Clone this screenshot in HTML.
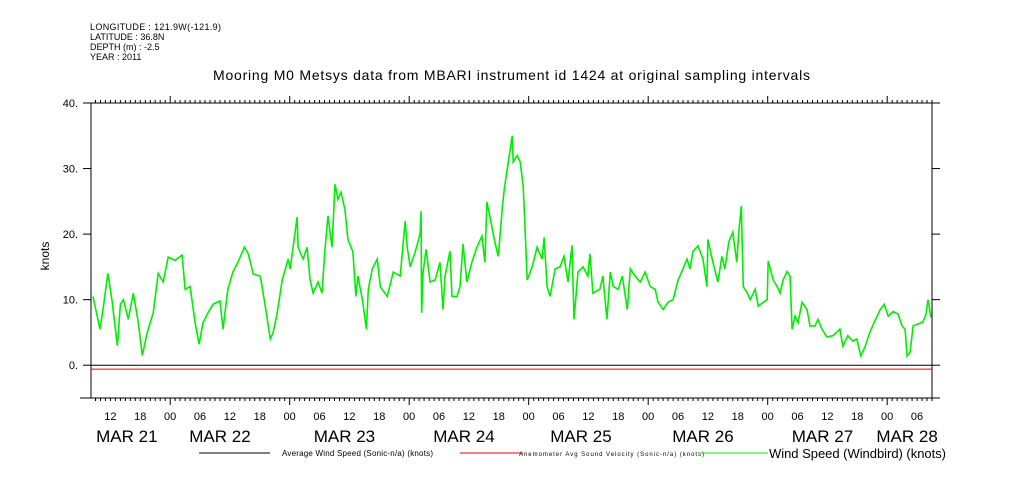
<!DOCTYPE html>
<html><head><meta charset="utf-8">
<style>
body{margin:0;background:#fff;}
svg{display:block;font-family:"Liberation Sans",sans-serif;}
</style></head>
<body>
<svg id="chart" width="1009" height="504" viewBox="0 0 1009 504" xmlns="http://www.w3.org/2000/svg">
<rect x="0" y="0" width="1009" height="504" fill="#fff"/>
<g font-size="9" fill="#000">
<text x="90" y="30" textLength="131">LONGITUDE : 121.9W(-121.9)</text>
<text x="90" y="40">LATITUDE : 36.8N</text>
<text x="90" y="50">DEPTH (m) : -2.5</text>
<text x="90" y="60">YEAR : 2011</text>
</g>
<text x="213" y="80" textLength="597" font-size="14">Mooring M0 Metsys data from MBARI instrument id 1424 at original sampling intervals</text>
<text transform="translate(49,256) rotate(-90)" text-anchor="middle" font-size="12">knots</text>
<g id="axes"></g>
<g id="series"></g>
<g font-size="8">
<line x1="199" y1="453" x2="270" y2="453" stroke="#000"/>
<text x="282" y="456" textLength="151">Average Wind Speed (Sonic-n/a) (knots)</text>
<line x1="460" y1="453" x2="523" y2="453" stroke="#e00"/>
<text x="519" y="456" font-size="6" textLength="185">Anemometer Avg Sound Velocity (Sonic-n/a) (knots)</text>
<line x1="700" y1="453" x2="768" y2="453" stroke="#0e0"/>
<text x="769" y="458" font-size="13" textLength="177">Wind Speed (Windbird) (knots)</text>
</g>
</svg>
<script>
const hours=[8.5,9.9,10.5,11.5,12.3,13.4,14,14.6,15.6,16.6,17.6,18.4,19.4,20.6,21.6,22.6,23.6,25,26.4,27,28,29,29.8,30.6,31.6,32.6,34,34.6,35.6,36.6,37.6,38.9,39.7,40.7,42.1,43.1,44.1,44.7,45.5,46.5,47.7,48.1,49.5,49.7,50.7,51.5,52.1,52.7,53.7,54.5,55.1,55.7,56.5,57.1,57.7,58.3,59.1,59.7,60.7,61.3,61.7,62.6,63.4,63.8,64.6,65.6,66.2,67.6,68.8,70.2,71.2,71.6,72.2,73.2,74.2,74.4,74.5,74.8,75.4,76.2,77.2,78.2,78.8,79.2,80.2,80.6,81.6,82.2,82.8,83.6,84.6,85.6,86.6,87.2,87.6,88.2,89.2,89.9,90.7,91.1,91.7,92.3,92.7,92.9,93.7,94.3,94.9,95.3,95.7,96.7,97.7,98.7,99.1,99.7,100.3,101.3,102.3,103.1,103.9,104.7,105.1,105.9,106.9,107.9,108.3,108.9,110.3,110.9,111.7,112.4,113,114,114.8,115.8,116.4,117.4,118.4,119.4,120.4,121.4,122,123,124,125,126,127,127.8,128.4,129,130,131,131.8,132,133,134,134.8,135.4,136.2,137,137.8,138.2,138.7,139.1,139.9,140.5,141.5,142.1,143.1,143.9,144.1,145.1,145.9,146.5,147.1,147.9,148.5,148.9,149.5,150.1,150.9,151.9,152.5,153.5,154.1,154.9,155.9,157.1,158.5,159.1,160.1,161.1,161.9,162.7,163.5,164.5,165.5,166.6,167.4,168.2,169.2,170.2,171,171.6,172,172.6,173.2,174.2,175.2,175.8,176.2,176.8];
const windSpeed=[10.5,5.5,8.5,14,10,3,9.3,10,7,11,6.5,1.5,5,8,14,12.7,16.5,16,16.8,11.6,12,6.5,3.2,6.5,8,9.3,9.8,5.5,11.6,14.2,15.7,18,17,13.9,13.6,9,4,5,8,13,16.2,14.7,22.6,18,16.2,18,13,11,12.7,11,17.7,22.8,18,27.6,25.3,26.4,23.8,19.2,17.3,10.5,13.6,10,5.5,11.6,14.7,16.2,12,10.5,14.2,13.6,22,18,15,17.3,20,23.5,8,14.2,17.7,12.7,13,15.7,8.5,13.6,17.4,10.5,10.5,12,18.5,12.7,15.7,18,19.7,15.7,24.9,22.8,18.8,16.6,24,26.9,30,33,35,31,32,31,27.3,20.3,13,15,18,16.2,19.5,12,10.5,14.7,15,16.6,12.7,18.3,7,14.2,15,13.6,17,11,11.6,13.6,7,14.2,12,11.6,13.6,8.5,14.7,13.6,12.7,14.2,12,11.6,9.6,8.5,9.6,10,13,14.7,16.2,14.7,17.4,18.2,16.2,12,19.2,15.7,12.7,16.6,14.7,18.8,20.3,15.7,20.3,24.3,12,11,10,11.6,9,9.6,10,15.9,13,12,11,13,14.3,13.6,5.5,7.5,6.5,9.6,8.5,6,6,7,5.5,4.3,4.5,5.5,2.9,4.5,3.7,4,1.4,2.7,5,6.7,8.5,9.3,7.5,8.2,7.8,6,5.5,1.4,2,6,6.3,6.6,7.8,10,7.3];
const yTicks=[-5,0,10,20,30,40];
const yTickLabels=["","0.","10.","20.","30.","40."];
const hourLabelsHours=[12,18,24,30,36,42,48,54,60,66,72,78,84,90,96,102,108,114,120,126,132,138,144,150,156,162,168,174];
const hourLabels=["12","18","00","06","12","18","00","06","12","18","00","06","12","18","00","06","12","18","00","06","12","18","00","06","12","18","00","06"];
const dateLabels=["MAR 21","MAR 22","MAR 23","MAR 24","MAR 25","MAR 26","MAR 27","MAR 28"];
const dateLabelHours=[15.3,34,59,83,106.5,131,155,172];
const avgWindValue=0;
const soundVelValue=-0.6;

const L=91,R=932,T=103,B=398;
const H0=8.1,H1=177;
const YMIN=-5,YMAX=40;
function xs(h){return L+(h-H0)/(H1-H0)*(R-L);}
function ys(v){return B-(v-YMIN)/(YMAX-YMIN)*(B-T);}
const NS="http://www.w3.org/2000/svg";
function mk(tag,attrs,parent){const e=document.createElementNS(NS,tag);for(const k in attrs)e.setAttribute(k,attrs[k]);parent.appendChild(e);return e;}
const axes=document.getElementById('axes');
const series=document.getElementById('series');

let f=mk('rect',{x:L,y:T,width:R-L,height:B-T,fill:'none',stroke:'#000','stroke-width':1},axes);


let bl=mk('line',{x1:80,y1:B,x2:R,y2:B,stroke:'#000'},axes);



yTicks.forEach((v,i)=>{
  const y=ys(v);
  let t=mk('line',{x1:83,y1:y,x2:L,y2:y,stroke:'#000'},axes);
  
  
  let t2=mk('line',{x1:R,y1:y,x2:940,y2:y,stroke:'#000'},axes);
  
  
  if(yTickLabels[i]){
    let tx=mk('text',{x:78,y:y+4,'text-anchor':'end','font-size':11},axes);
    tx.textContent=yTickLabels[i];
    
    
  }
});
let minor='';
for(let h=Math.ceil(H0);h<=H1;h++){
  const x=xs(h);const big=(h%24===0);
  const len=big?7:3;
  minor+=`M${x.toFixed(1)},${B}v${len}M${x.toFixed(1)},${T}v${-len}`;
}
let mt=mk('path',{d:minor,stroke:'#000','stroke-width':1,fill:'none'},axes);


hourLabelsHours.forEach((h,i)=>{
  let tx=mk('text',{x:xs(h),y:420,'text-anchor':'middle','font-size':11},axes);
  tx.textContent=hourLabels[i];
  
  
});
dateLabels.forEach((d,i)=>{
  let tx=mk('text',{x:xs(dateLabelHours[i]),y:442,'text-anchor':'middle','font-size':17},axes);
  tx.textContent=d;
  
  
});

let a=mk('line',{x1:L,y1:ys(avgWindValue),x2:R,y2:ys(avgWindValue),stroke:'#000','stroke-width':1},series);


let s=mk('line',{x1:L,y1:ys(soundVelValue),x2:R,y2:ys(soundVelValue),stroke:'#e00','stroke-width':1},series);


let d='';
hours.forEach((h,i)=>{d+=(i?'L':'M')+xs(h).toFixed(1)+','+ys(windSpeed[i]).toFixed(1);});
let w=mk('path',{d:d,stroke:'#0e0','stroke-width':1.6,fill:'none','stroke-linejoin':'miter'},series);


</script>
</body></html>
